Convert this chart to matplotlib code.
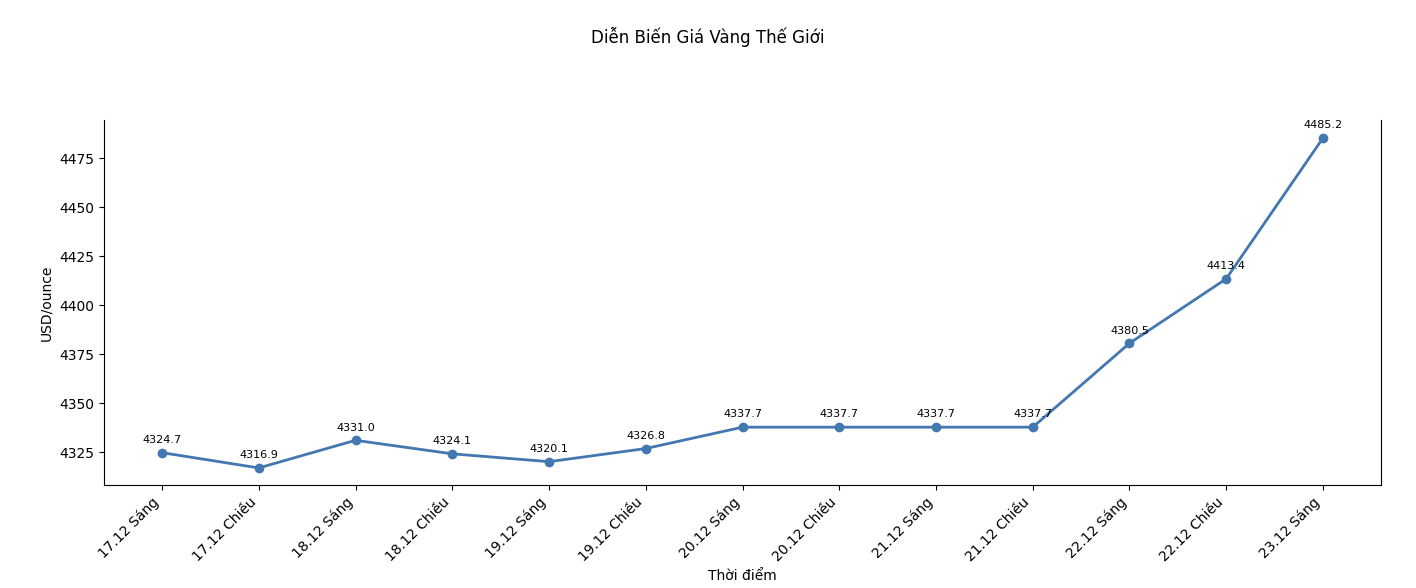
import matplotlib.pyplot as plt

labels = ["17.12 Sáng", "17.12 Chiều", "18.12 Sáng", "18.12 Chiều", "19.12 Sáng",
          "19.12 Chiều", "20.12 Sáng", "20.12 Chiều", "21.12 Sáng", "21.12 Chiều",
          "22.12 Sáng", "22.12 Chiều", "23.12 Sáng"]
prices = [4324.7, 4316.9, 4331.0, 4324.1, 4320.1, 4326.8, 4337.7, 4337.7,
          4337.7, 4337.7, 4380.5, 4413.4, 4485.2]

fig = plt.figure(figsize=(14.16, 5.88), dpi=100)
ax = fig.add_axes([104 / 1416, 1 - 485 / 588, (1381 - 104) / 1416, (485 - 120) / 588])
x = list(range(len(labels)))
ax.plot(x, prices, marker="o", color="#4277b0", linewidth=2, markersize=6)
for xi, p in zip(x, prices):
    ax.annotate(f"{p:.1f}", (xi, p), textcoords="offset points", xytext=(0, 7),
                ha="center", fontsize=8)

ax.set_xticks(x)
ax.set_xticklabels(labels, rotation=45, ha="right")
ax.set_xlim(-0.6, 12.6)
ax.set_ylim(4308.2, 4494.4)
ax.set_yticks([4325, 4350, 4375, 4400, 4425, 4450, 4475])
ax.spines["top"].set_visible(False)
ax.set_xlabel("Thời điểm")
ax.set_ylabel("USD/ounce")
fig.suptitle("Diễn Biến Giá Vàng Thế Giới", y=0.955, fontsize=12)
fig.savefig("out.png", dpi=100)
